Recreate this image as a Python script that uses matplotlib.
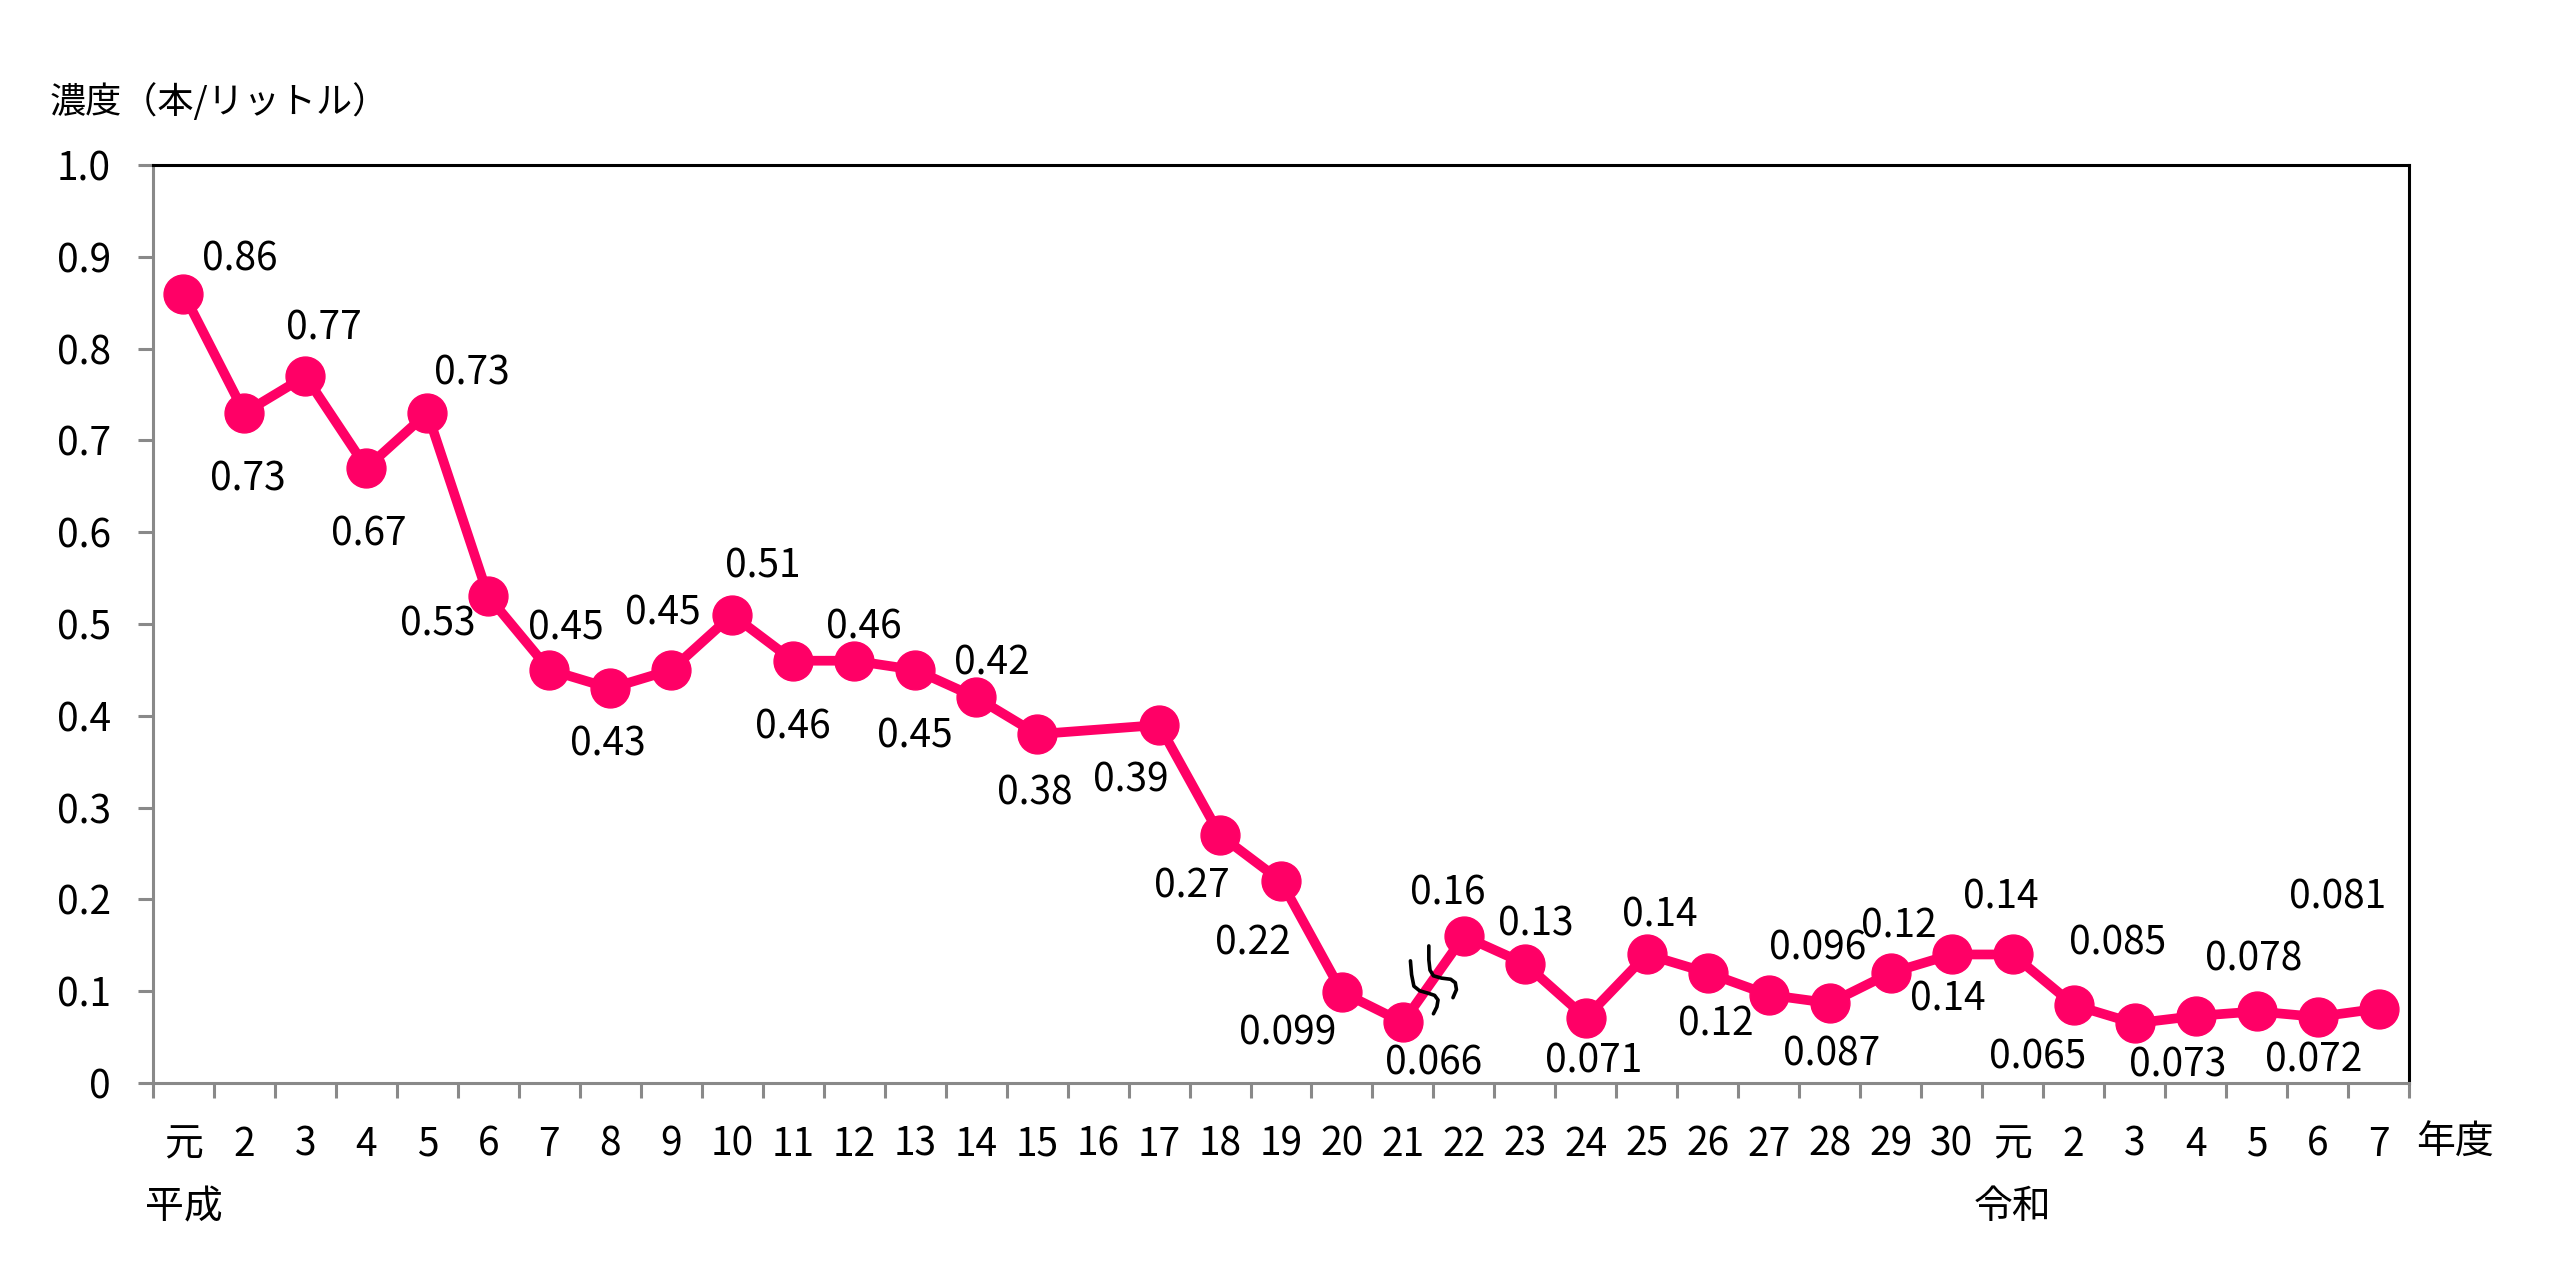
"""
Asbestos concentration trend (fibres per litre), Heisei 1 - Reiwa 7.
"""

import numpy as np
import matplotlib.pyplot as plt
from matplotlib.path import Path
from matplotlib.patches import PathPatch
import matplotlib.transforms as mtransforms

plt.rcParams['font.family'] = ['Noto Sans CJK JP', 'DejaVu Sans']

# Data
years = ['元', '2', '3', '4', '5', '6', '7', '8', '9', '10',
         '11', '12', '13', '14', '15', '16', '17', '18', '19', '20',
         '21', '22', '23', '24', '25', '26', '27', '28', '29', '30',
         '元', '2', '3', '4', '5', '6', '7']
values = [0.86, 0.73, 0.77, 0.67, 0.73, 0.53, 0.45, 0.43, 0.45, 0.51,
          0.46, 0.46, 0.45, 0.42, 0.38, None, 0.39, 0.27, 0.22, 0.099,
          0.066, 0.16, 0.13, 0.071, 0.14, 0.12, 0.096, 0.087, 0.12, 0.14,
          0.14, 0.085, 0.065, 0.073, 0.078, 0.072, 0.081]
yticks = [0, 0.1, 0.2, 0.3, 0.4, 0.5, 0.6, 0.7, 0.8, 0.9, 1.0]
ytick_labels = ['0', '0.1', '0.2', '0.3', '0.4', '0.5', '0.6', '0.7', '0.8', '0.9', '1.0']

# label offsets in pixels (dx right, dy down), hand placed like the original
label_dx = [56, 3, 18, 2, 44, -51, 16, -2, -8, 31,
            0, 10, 0, 16, -2, 0, -28, -28, -28, -54,
            31, -16, 11, 8, 13, 8, 49, 2, 8, -4,
            -12, 44, -97, -18, -3, -4, -41]
label_dy = [-34, 67, -48, 67, -39, 28, -41, 56, -56, -48,
            67, -33, 67, -34, 59, 0, 56, 51, 62, 41,
            41, -43, -39, 44, -39, 52, -46, 51, -46, 45,
            -57, -61, 34, 50, -52, 44, -111]

PINK = '#FF0066'
GRAY = '#898989'
FS = 28

fig = plt.figure(figsize=(25.66, 12.62), dpi=100)
ax = fig.add_axes([153 / 2566, 179 / 1262, 2256 / 2566, 918 / 1262])

x = np.array([i for i, v in enumerate(values) if v is not None])
y = np.array([v for v in values if v is not None])

ax.plot(x, y, color=PINK, linewidth=7, marker='o', markersize=28,
        markerfacecolor=PINK, markeredgecolor=PINK, zorder=3, clip_on=False)

for i, v in enumerate(values):
    if v is None:
        continue
    ax.annotate(f'{v:g}', xy=(i, v), xytext=(label_dx[i], -label_dy[i]),
                textcoords='offset pixels', ha='center', va='center',
                fontsize=FS, color='black', zorder=4)

# axes
ax.set_xlim(-0.5, len(years) - 0.5)
ax.set_ylim(0, 1.0)
ax.set_yticks(yticks)
ax.set_yticklabels(ytick_labels)
ax.set_xticks(range(len(years)))
ax.set_xticklabels(years)
ax.set_xticks(np.arange(-0.5, len(years), 1.0), minor=True)

ax.tick_params(axis='x', which='major', length=0, pad=30, labelsize=FS)
ax.tick_params(axis='x', which='minor', length=10.5, width=2.2, color=GRAY,
               direction='out')
ax.tick_params(axis='y', which='major', length=10.5, width=2.2, color=GRAY,
               direction='out', pad=20, labelsize=FS)

ax.spines['left'].set_color(GRAY)
ax.spines['bottom'].set_color(GRAY)
ax.spines['top'].set_color('black')
ax.spines['right'].set_color('black')
for s in ax.spines.values():
    s.set_linewidth(2.2)

# era names under the first year of each era
ax.annotate('平成', xy=(0, 0), xycoords=('data', 'axes fraction'),
            xytext=(0, -124), textcoords='offset pixels',
            ha='center', va='center', fontsize=FS)
ax.annotate('令和', xy=(30, 0), xycoords=('data', 'axes fraction'),
            xytext=(0, -124), textcoords='offset pixels',
            ha='center', va='center', fontsize=FS)
ax.annotate('年度', xy=(1, 0), xycoords='axes fraction',
            xytext=(46, -60), textcoords='offset pixels',
            ha='center', va='center', fontsize=FS)

fig.text(50 / 2566, 1 - 102 / 1262, '濃度（本/リットル）', ha='left', va='center',
         fontsize=26)

# break mark on the 21-22 segment (measurement method changed)
mid = (values[20] + values[21]) / 2
offset = (mtransforms.Affine2D().scale(1.15)
          + mtransforms.ScaledTranslation(20.5, mid, ax.transData))
stroke_a = [(-20, 16), (-19, 4), (-17, -6), (-12, -10), (-5, -12), (1, -14),
            (4, -18), (3, -24), (0, -30)]
stroke_b = [(-4, 29), (-4, 17), (-3, 8), (0, 3), (7, 1), (15, 0),
            (19, -3), (20, -9), (17, -16)]
for stroke in (stroke_a, stroke_b):
    codes = [Path.MOVETO] + [Path.LINETO] * (len(stroke) - 1)
    patch = PathPatch(Path(stroke, codes), transform=offset, fill=False,
                      edgecolor='black', linewidth=2.6, capstyle='round',
                      joinstyle='round', zorder=5, clip_on=False)
    ax.add_patch(patch)

fig.savefig('out.png', dpi=100)
